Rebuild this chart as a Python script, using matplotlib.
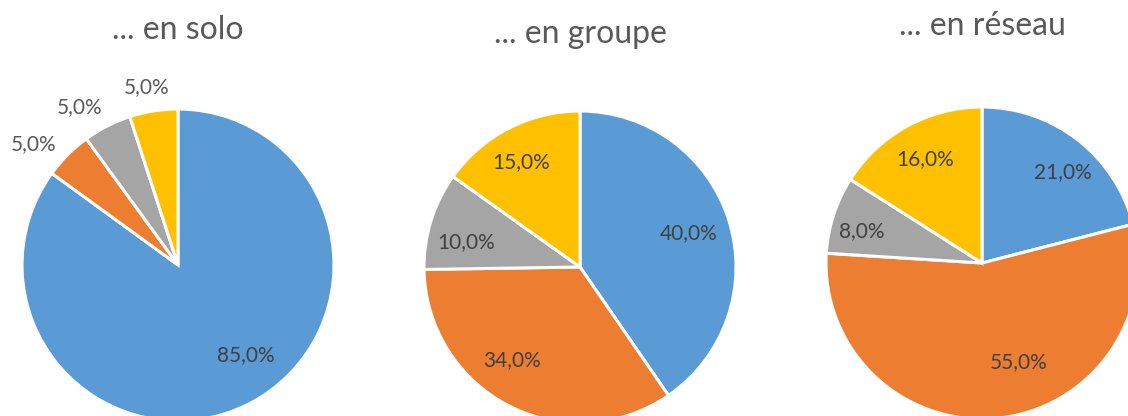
import matplotlib
matplotlib.use("Agg")
import matplotlib.pyplot as plt
import numpy as np

# ---- data ----
titles = ["... en solo", "... en groupe", "... en réseau"]
solo = [85, 5, 5, 5]
groupe = [40, 34, 10, 15]
reseau = [21, 55, 8, 16]
series = [solo, groupe, reseau]
colors = ["#5B9BD5", "#ED7D31", "#A5A5A5", "#FFC000"]

# ---- layout (pixels) ----
W, H = 1128, 416
centers = [(178, 265), (580, 267), (982, 263)]
radius_px = 156
title_y = [30, 34, 26]
# per-label (angle offset deg, distance as fraction of radius)
label_layout = [
    [(10, 0.72), (5, 1.21), (5, 1.19), (1, 1.16)],
    [(0, 0.73), (-9, 0.74), (5, 0.75), (2, 0.77)],
    [(-4, 0.78), (15, 0.68), (3, 0.80), (0, 0.76)],
]

plt.rcParams['font.family'] = ['Lato', 'DejaVu Sans']
fig = plt.figure(figsize=(W / 100, H / 100), dpi=100)

for i, vals in enumerate(series):
    cx, cy = centers[i]
    ax = fig.add_axes([(cx - radius_px) / W, (H - cy - radius_px) / H,
                       2 * radius_px / W, 2 * radius_px / H])
    wedges, _ = ax.pie(vals, colors=colors, startangle=90, counterclock=False,
                       radius=1.0, wedgeprops=dict(edgecolor="white", linewidth=2.2))
    ax.set_xlim(-1, 1)
    ax.set_ylim(-1, 1)
    ax.set_aspect("equal")
    ax.axis("off")
    for w, v, (doff, dist) in zip(wedges, vals, label_layout[i]):
        mid = np.deg2rad((w.theta1 + w.theta2) / 2 + doff)
        outside = dist > 1
        ax.text(dist * np.cos(mid), dist * np.sin(mid), f"{v:.1f}%".replace(".", ","),
                ha="center", va="center", fontsize=15,
                color="#595959" if outside else "#404040", clip_on=False)
    fig.text(cx / W, 1 - title_y[i] / H, titles[i], ha="center", va="center",
             fontsize=23, color="#595959")

fig.savefig("out.png", dpi=100)
